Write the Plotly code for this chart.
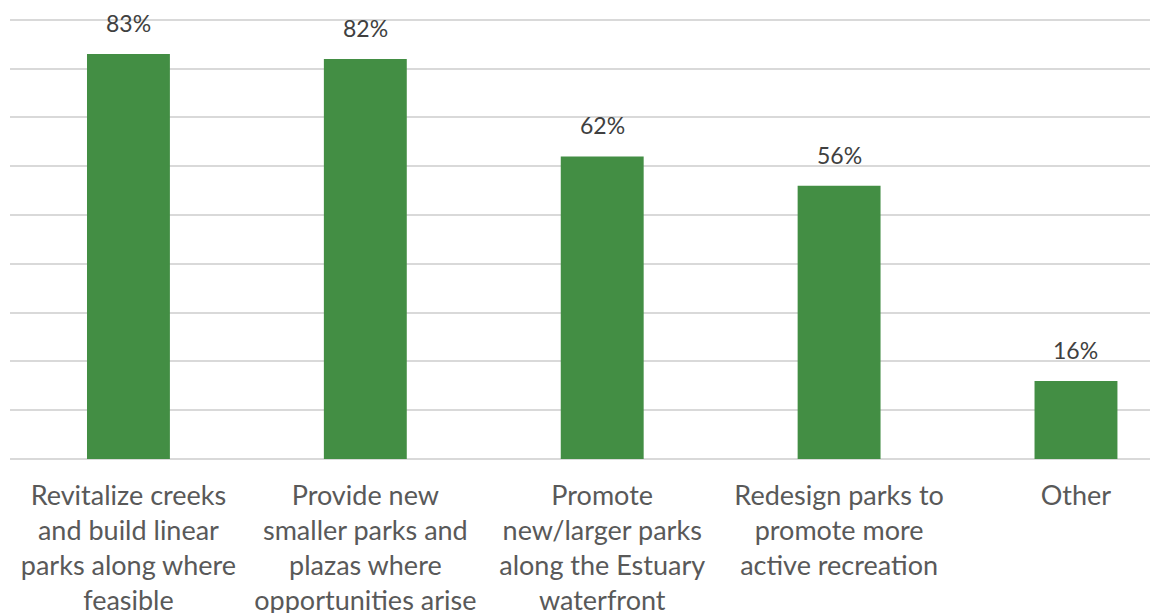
import plotly.graph_objects as go

categories = [
    "Revitalize creeks<br>and build linear<br>parks along where<br>feasible",
    "Provide new<br>smaller parks and<br>plazas where<br>opportunities arise",
    "Promote<br>new/larger parks<br>along the Estuary<br>waterfront",
    "Redesign parks to<br>promote more<br>active recreation",
    "Other",
]
values = [83, 82, 62, 56, 16]
labels = [f"{v}%" for v in values]

bar_color = "#438E44"
font_family = "Lato, 'Open Sans', sans-serif"

fig = go.Figure(
    go.Bar(
        x=list(range(len(categories))),
        y=values,
        marker=dict(color=bar_color, line=dict(width=0)),
        width=0.35,
        hoverinfo="skip",
    )
)

for i, (v, t) in enumerate(zip(values, labels)):
    fig.add_annotation(
        x=i, y=v, text=t, showarrow=False, yanchor="bottom", yshift=15,
        font=dict(family=font_family, size=23, color="#404040"),
    )

fig.update_layout(
    width=1158, height=613,
    margin=dict(l=2, r=0, t=7, b=162, autoexpand=False),
    paper_bgcolor="white", plot_bgcolor="white",
    showlegend=False,
)
fig.update_xaxes(
    tickmode="array", tickvals=list(range(len(categories))), ticktext=categories,
    range=[-0.5, 4.38], showgrid=False, zeroline=False, showline=False,
    ticks="", ticklabelstandoff=18, automargin=False,
    tickfont=dict(family=font_family, size=27, color="#595959"),
)
fig.update_yaxes(
    range=[0, 91], dtick=10, showgrid=True, gridcolor="#D9D9D9", gridwidth=1.5,
    showticklabels=False, zeroline=True, zerolinecolor="#D9D9D9", zerolinewidth=1.5,
    showline=False, automargin=False,
)

fig.write_html("out.html")
